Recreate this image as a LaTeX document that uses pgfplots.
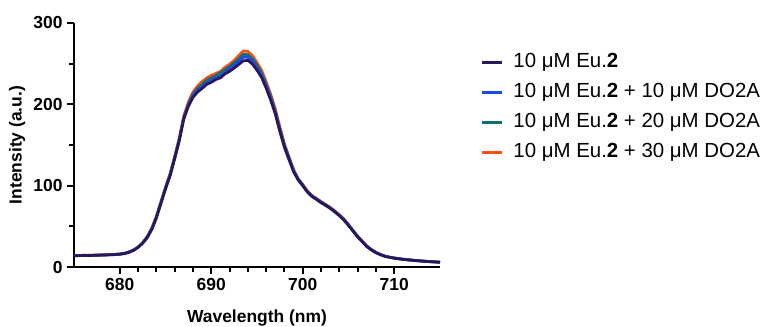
\documentclass[border=0pt]{standalone}
\usepackage{fontspec}
\setmainfont{Liberation Sans}
\usepackage{pgfplots}
\usepackage{pgfplotstable}
\pgfplotsset{compat=1.18}
\definecolor{cdark}{HTML}{2B1758}
\definecolor{cblue}{HTML}{1A4BE8}
\definecolor{cteal}{HTML}{0E7070}
\definecolor{corange}{HTML}{FF5010}
\pgfplotstableread{
x dark blue teal orange
675 14.0 14.3 14.1 14.5
675.5 13.8 14.0 14.2 14.1
676 14.2 14.1 14.4 14.3
676.5 14.0 14.2 14.3 14.6
677 14.3 14.1 14.5 14.4
677.5 14.5 14.6 14.4 14.9
678 14.6 14.8 14.7 14.8
678.5 14.8 14.7 15.0 15.2
679 15.0 15.1 15.2 15.3
679.5 15.3 15.2 15.5 15.6
680 15.7 15.9 15.8 16.1
680.5 16.5 16.4 16.8 16.9
681 18.0 18.2 18.3 18.5
681.5 20.5 20.4 20.8 21.0
682 24.0 24.3 24.5 24.6
682.5 29.0 29.5 29.8 30.0
683 36.0 36.5 37.0 37.5
683.5 46.0 46.8 47.0 47.8
684 60.0 61.0 61.5 62.5
684.5 78.0 78.5 79.5 80.5
685 96.0 96.5 97.5 98.0
685.5 112.0 113.0 113.5 115.0
686 133.0 134.0 134.5 136.0
686.5 155.0 156.0 157.0 158.5
687 182.0 183.0 184.0 186.0
687.5 197.5 199.0 200.5 203.0
688 208.5 210.0 212.5 215.0
688.5 215.0 217.5 219.5 222.5
689 219.5 221.5 224.5 228.0
689.5 224.5 226.0 229.5 232.5
690 227.0 229.5 232.5 235.5
690.5 230.5 232.0 235.0 238.0
691 232.5 235.0 239.0 240.5
691.5 237.5 239.0 242.5 245.5
692 240.5 243.5 246.5 249.5
692.5 244.5 248.0 251.0 254.0
693 249.0 252.5 256.0 260.0
693.5 253.5 258.0 261.5 265.5
694 254.0 258.0 261.0 265.0
694.5 249.5 253.0 256.0 260.0
695 242.0 245.0 248.0 251.5
695.5 233.0 235.5 238.5 242.0
696 220.0 222.0 225.0 228.0
696.5 205.0 207.0 209.5 212.5
697 188.0 190.0 192.0 194.5
697.5 166.5 168.0 170.0 172.5
698 147.0 148.0 150.0 151.5
698.5 132.0 133.0 134.5 135.5
699 117.0 118.0 119.0 119.5
699.5 107.0 107.5 108.5 108.5
700 100.0 100.0 101.0 101.5
700.5 92.5 92.0 93.0 93.5
701 87.0 86.5 87.5 88.0
701.5 83.0 83.5 83.5 84.5
702 79.0 79.5 80.0 80.5
702.5 76.0 75.5 76.5 77.0
703 72.0 72.5 72.5 73.5
703.5 68.0 67.5 68.5 69.0
704 63.0 63.5 63.5 64.5
704.5 58.0 57.5 58.5 59.0
705 51.0 51.5 51.5 52.5
705.5 44.0 44.5 44.5 45.0
706 37.0 37.0 37.5 38.0
706.5 31.0 31.5 31.5 32.0
707 25.0 25.5 25.5 26.0
707.5 21.0 21.0 21.5 21.5
708 17.5 17.8 17.8 18.0
708.5 15.0 15.2 15.3 15.5
709 13.0 13.2 13.3 13.5
709.5 11.8 12.0 12.0 12.2
710 10.8 11.0 11.0 11.2
710.5 10.0 10.2 10.1 10.4
711 9.3 9.5 9.4 9.6
711.5 8.7 8.9 8.8 9.0
712 8.2 8.4 8.3 8.5
712.5 7.7 7.9 7.8 8.0
713 7.2 7.4 7.3 7.5
713.5 6.8 7.0 6.9 7.1
714 6.4 6.6 6.5 6.7
714.5 6.1 6.3 6.2 6.4
715 5.8 6.0 5.9 6.1
}\spec
\begin{document}
\begin{tikzpicture}
\begin{axis}[
  at={(0,0)}, anchor=south west,
  scale only axis,
  width=366bp, height=244bp,
  xmin=675, xmax=715, ymin=0, ymax=300,
  axis x line=bottom, axis y line=left,
  axis line style={-, line width=2.2bp, black},
  xtick={680,690,700,710}, ytick={0,100,200,300},
  minor x tick num=4, minor y tick num=1,
  tick align=outside,
  major tick length=7bp, minor tick length=4.5bp,
  every tick/.style={line width=2bp, black},
  /pgf/number format/assume math mode=true,
  /pgf/number format/1000 sep={},
  ticklabel style={font=\bfseries\fontsize{17.5}{18}\selectfont},
  xticklabel style={yshift=-1bp},
  yticklabel style={xshift=-1bp},
  xlabel={Wavelength (nm)},
  ylabel={Intensity (a.u.)},
  label style={font=\bfseries\fontsize{17.5}{18}\selectfont},
  xlabel style={at={(rel axis cs:0.5,0)}, anchor=center, yshift=-51bp},
  ylabel style={at={(rel axis cs:0,0.5)}, anchor=center, yshift=57bp},
  clip=false,
  reverse legend,
  legend cell align=left,
  legend style={draw=none, fill=none, at={(rel axis cs:1.11,0.8785)}, anchor=north west,
    inner sep=0pt, row sep=11.3bp, column sep=10bp,
    nodes={inner sep=0pt, text height=14.7bp, text depth=4bp},
    font=\fontsize{20.5}{22}\selectfont},
  legend image code/.code={\draw[line width=3bp] (0bp,0bp) -- (20bp,0bp);},
]
\addplot[corange, line width=2.7bp] table[x=x, y=orange] {\spec};
\addlegendentry{10 μM Eu.\textbf{2} + 30 μM DO2A}
\addplot[cteal, line width=2.7bp] table[x=x, y=teal] {\spec};
\addlegendentry{10 μM Eu.\textbf{2} + 20 μM DO2A}
\addplot[cblue, line width=2.7bp] table[x=x, y=blue] {\spec};
\addlegendentry{10 μM Eu.\textbf{2} + 10 μM DO2A}
\addplot[cdark, line width=2.7bp] table[x=x, y=dark] {\spec};
\addlegendentry{10 μM Eu.\textbf{2}}
\end{axis}
\pgfresetboundingbox
\path (-74bp,-60bp) rectangle (698bp,267bp);
\end{tikzpicture}
\end{document}
